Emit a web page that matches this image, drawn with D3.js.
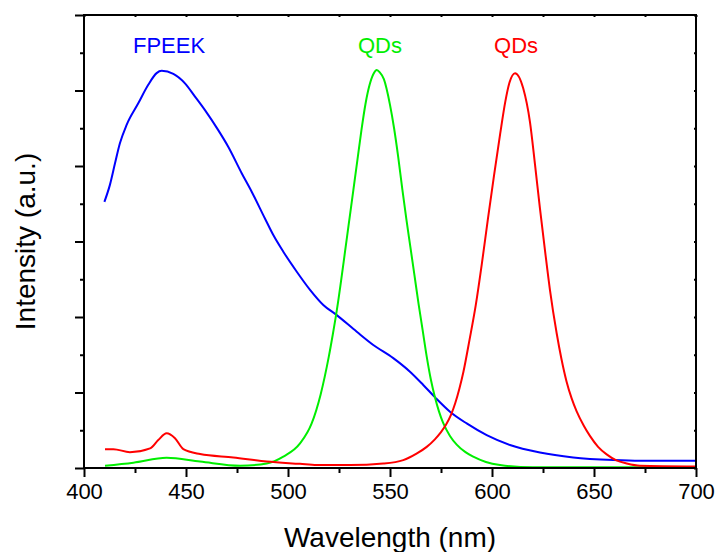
<!DOCTYPE html>
<html>
<head>
<meta charset="utf-8">
<script src="https://cdn.jsdelivr.net/npm/d3@7"></script>
<style>
  html, body { margin: 0; padding: 0; background: #fff; }
  svg { display: block; font-family: "Liberation Sans", Arial, sans-serif; }
</style>
</head>
<body>
<svg id="chart" width="718" height="552"></svg>
<script>
// ---- Data (wavelength nm, intensity a.u.) ----
const fpeekWL = [410.0,412.7,415.2,417.6,420.9,426.6,431.5,435.6,438.1,443.8,449.5,454.4,459.3,465.8,470.7,477.3,482.2,488.7,492.8,497.7,504.3,510.8,517.3,523.9,533.7,541.8,551.6,559.8,566.3,572.1,579.4,587.6,597.4,608.8,623.5,639.8,659.5,672.5,700];
const fpeekI  = [7.05,7.50,8.07,8.60,9.09,9.66,10.15,10.46,10.52,10.44,10.19,9.84,9.48,8.95,8.51,7.81,7.32,6.61,6.17,5.73,5.20,4.72,4.32,4.05,3.61,3.26,2.91,2.55,2.20,1.87,1.49,1.18,0.87,0.61,0.41,0.28,0.21,0.19,0.19];

const qdGreenWL = [410.3,424.2,440.5,456.9,476.5,489.6,497.7,505.9,511.6,516,520,522,524,526,528,530,532,534,536,538,540,542,543.5,545,547,550,552,554,556,558,560,562,564,566,568,570,572,574,576,579.4,582.7,587,590.8,597,603.9,620.1,650,700];
const qdGreenI  = [0.06,0.14,0.27,0.17,0.06,0.12,0.30,0.65,1.18,1.95,2.95,3.55,4.2,4.95,5.75,6.55,7.35,8.15,8.95,9.65,10.15,10.45,10.54,10.48,10.3,9.62,9.0,8.25,7.4,6.6,5.85,5.1,4.35,3.65,2.95,2.35,1.88,1.5,1.2,0.85,0.62,0.42,0.30,0.16,0.08,0.02,0.02,0.02];

const qdRedWL = [410.3,414.4,422.5,432.4,436.4,440.5,444.6,448.7,456.9,473.2,489.6,505.9,514.1,530.4,546.7,556.5,563,568,572,575,577.5,580,582,584,586,589,592,595,598,601,604,606.5,608.5,611.3,615.3,618.6,621.1,623.5,626.0,628.4,631.7,634,636.5,639,641.5,645,648.0,652,656.2,661,666.0,672.5,700];
const qdRedI  = [0.50,0.50,0.42,0.52,0.74,0.92,0.79,0.50,0.37,0.28,0.17,0.11,0.08,0.08,0.12,0.21,0.38,0.56,0.76,0.95,1.15,1.42,1.72,2.1,2.55,3.4,4.3,5.4,6.6,7.75,8.85,9.7,10.2,10.46,10.06,9.17,8.03,6.88,5.75,4.72,3.57,2.9,2.3,1.85,1.5,1.12,0.85,0.56,0.36,0.2,0.12,0.06,0.04];

const xTicksMajor = [400,450,500,550,600,650,700];
const xTicksMinor = [425,475,525,575,625,675];
const yTicksMajor = [0,2,4,6,8,10,12];
const yTicksMinor = [1,3,5,7,9,11];

const seriesLabels = [
  {text: "FPEEK", wl: 441.7, val: 11.0, color: "#0000ff"},
  {text: "QDs", wl: 545.1, val: 11.0, color: "#00ee00"},
  {text: "QDs", wl: 611.8, val: 11.0, color: "#ff0000"}
];

// ---- Layout ----
const svg = d3.select("#chart");
const mLeft = 84, mRight = 696, mTop = 15, mBottom = 468;
const x = d3.scaleLinear().domain([400, 700]).range([mLeft, mRight]);
const y = d3.scaleLinear().domain([0, 12]).range([mBottom, mTop]);

// Curves
const line = d3.line().x(d => x(d[0])).y(d => y(d[1])).curve(d3.curveMonotoneX);
const series = [
  {wl: fpeekWL, v: fpeekI, color: "#0000ff"},
  {wl: qdGreenWL, v: qdGreenI, color: "#00ee00"},
  {wl: qdRedWL, v: qdRedI, color: "#ff0000"}
];
const plot = svg.append("g");
series.forEach(s => {
  plot.append("path")
    .datum(s.wl.map((w, i) => [w, s.v[i]]))
    .attr("fill", "none")
    .attr("stroke", s.color)
    .attr("stroke-width", 2)
    .attr("stroke-linejoin", "round")
    .attr("d", line);
});

// Axes
const axisColor = "#000";
function styleAxis(g) {
  g.select(".domain").remove();
  g.selectAll("line").attr("stroke", axisColor).attr("stroke-width", 2);
}
svg.append("g").attr("transform", `translate(0,${mBottom})`)
  .call(d3.axisBottom(x).tickValues(xTicksMajor).tickSize(9).tickPadding(6).tickFormat(d3.format("d")))
  .call(styleAxis)
  .call(g => g.selectAll("text").attr("font-size", 22).attr("fill", "#000").attr("font-family", "'Liberation Sans', Arial, sans-serif"));
svg.append("g").attr("transform", `translate(0,${mBottom})`)
  .call(d3.axisBottom(x).tickValues(xTicksMinor).tickSize(5).tickFormat(""))
  .call(styleAxis);
svg.append("g").attr("transform", `translate(${mLeft},0)`)
  .call(d3.axisLeft(y).tickValues(yTicksMajor).tickSize(9).tickFormat(""))
  .call(styleAxis);
svg.append("g").attr("transform", `translate(${mLeft},0)`)
  .call(d3.axisLeft(y).tickValues(yTicksMinor).tickSize(4).tickFormat(""))
  .call(styleAxis);
svg.append("g").attr("transform", `translate(0,${mTop})`)
  .call(d3.axisBottom(x).tickValues(xTicksMajor.concat(xTicksMinor)).tickSize(2).tickFormat(""))
  .call(styleAxis);
svg.append("g").attr("transform", `translate(${mRight},0)`)
  .call(d3.axisLeft(y).tickValues(yTicksMajor.concat(yTicksMinor)).tickSize(2).tickFormat(""))
  .call(styleAxis);

// Frame
svg.append("rect")
  .attr("x", mLeft).attr("y", mTop)
  .attr("width", mRight - mLeft).attr("height", mBottom - mTop)
  .attr("fill", "none").attr("stroke", axisColor).attr("stroke-width", 2);

// Axis titles
svg.append("text")
  .attr("x", (mLeft + mRight) / 2).attr("y", 547)
  .attr("text-anchor", "middle").attr("font-size", 28).attr("fill", "#000")
  .text("Wavelength (nm)");
svg.append("text")
  .attr("transform", `translate(35,${(mTop + mBottom) / 2}) rotate(-90)`)
  .attr("text-anchor", "middle").attr("font-size", 28).attr("fill", "#000")
  .text("Intensity (a.u.)");

// Series labels
seriesLabels.forEach(l => {
  svg.append("text")
    .attr("x", x(l.wl)).attr("y", y(l.val))
    .attr("text-anchor", "middle").attr("font-size", 22).attr("fill", l.color)
    .text(l.text);
});
</script>
</body>
</html>
